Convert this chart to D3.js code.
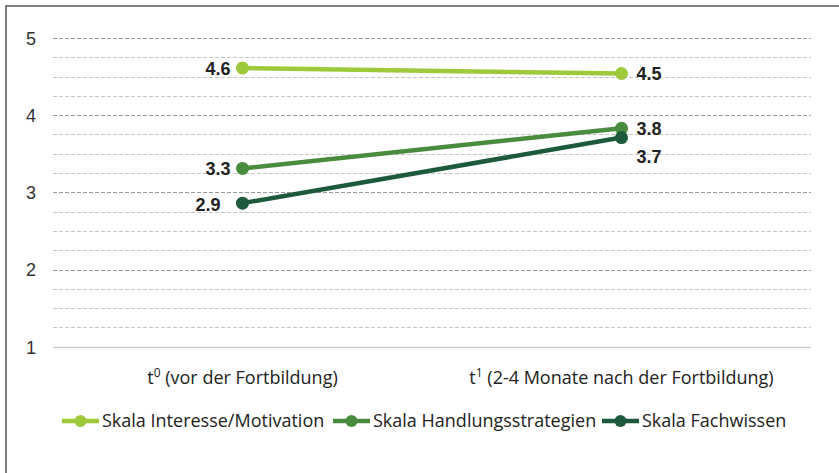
<!DOCTYPE html>
<html>
<head>
<meta charset="utf-8">
<script src="https://cdn.jsdelivr.net/npm/d3@7"></script>
<style>
  body { margin: 0; background: #fff; }
  svg { display: block; }
  .val-label { font-family: "Liberation Sans", Arial, sans-serif; font-size: 18px; font-weight: bold; fill: #222; }
  .cat-label, .legend-label { font-family: "Open Sans", sans-serif; font-size: 18px; fill: #222; }
</style>
</head>
<body>
<div id="chart"></div>
<script>
/* Data ************************************************************************/

var categories = ['t0', 't1'];
var cat_main = ['t', 't'],
    cat_sup = ['0', '1'],
    cat_rest = [' (vor der Fortbildung)', ' (2-4 Monate nach der Fortbildung)'];

var series_names = ['Skala Interesse/Motivation',
                    'Skala Handlungsstrategien',
                    'Skala Fachwissen'];
var interesse = [4.61, 4.54],
    handlung = [3.31, 3.83],
    fachwissen = [2.86, 3.71];
var series_colors = ['#9dc93b', '#4a8c3e', '#1d5a3b'];

var y_ticks = [1, 2, 3, 4, 5];

/* Chart ***********************************************************************/

function build_chart()
{
    let width = 839,
        height = 473,
        margin = { top: 38, bottom: 126, left: 53, right: 28 };

    let svg = d3.select('#chart').append('svg')
        .attr('width', width)
        .attr('height', height);

    let x = d3.scalePoint()
        .domain(categories)
        .range([margin.left, width - margin.right])
        .padding(0.5);

    let y = d3.scaleLinear()
        .domain([1, 5])
        .range([346.7, margin.top]);

    // frame
    svg.append('path')
        .attr('d', d3.line()([[6, height], [6, 6], [width, 6]]))
        .attr('fill', 'none')
        .attr('stroke', '#555')
        .attr('stroke-width', 1.5);

    // grid lines (minor every 0.25, major on integers)
    let grid = d3.range(1, 5.001, 0.25);
    svg.append('g').selectAll('line').data(grid).enter()
        .append('line')
        .attr('x1', margin.left)
        .attr('x2', width - margin.right)
        .attr('y1', d => Math.round(y(d)) + 0.5)
        .attr('y2', d => Math.round(y(d)) + 0.5)
        .attr('stroke', d => d == 1 ? '#ccc' : (d % 1 == 0 ? '#999' : '#c4c4c4'))
        .attr('stroke-dasharray', d => d == 1 ? null : '4,2')
        .attr('stroke-width', d => d == 1 ? 1.5 : 1);

    // y tick labels
    let yaxis = d3.axisLeft(y).tickValues(y_ticks).tickFormat(d3.format('d'))
        .tickSize(0).tickPadding(0);
    let yg = svg.append('g')
        .attr('transform', 'translate(36,0)')
        .call(yaxis)
        .attr('font-family', '"Liberation Sans", Arial, sans-serif')
        .attr('font-size', 18);
    yg.select('.domain').remove();
    yg.selectAll('text')
        .attr('fill', '#333')
        .attr('dy', '0.35em');

    // category labels
    let cl = svg.append('g').selectAll('text').data(categories).enter()
        .append('text')
        .attr('class', 'cat-label')
        .attr('x', d => x(d))
        .attr('y', 384)
        .attr('text-anchor', 'middle');
    cl.append('tspan').text((d, i) => cat_main[i]);
    cl.append('tspan').attr('dy', -7).attr('font-size', 12).text((d, i) => cat_sup[i]);
    cl.append('tspan').attr('dy', 7).text((d, i) => cat_rest[i]);

    // series
    let all = [interesse, handlung, fachwissen];
    let line = d3.line().x((d, i) => x(categories[i])).y(d => y(d));

    all.forEach((vals, s) => {
        svg.append('path')
            .attr('d', line(vals))
            .attr('fill', 'none')
            .attr('stroke', series_colors[s])
            .attr('stroke-width', 4.5);
        svg.append('g').selectAll('circle').data(vals).enter()
            .append('circle')
            .attr('cx', (d, i) => x(categories[i]))
            .attr('cy', d => y(d))
            .attr('r', 6.5)
            .attr('fill', series_colors[s]);
    });

    // value labels (offsets per series and point)
    let label_dx = [[-12, 15], [-12, 15], [-22, 15]],
        label_dy = [[0, 0], [0, 0], [1, 19]];
    all.forEach((vals, s) => {
        svg.append('g').selectAll('text').data(vals).enter()
            .append('text')
            .attr('class', 'val-label')
            .attr('x', (d, i) => x(categories[i]) + label_dx[s][i])
            .attr('y', (d, i) => y(d) + label_dy[s][i] + 6.5)
            .attr('text-anchor', (d, i) => i == 0 ? 'end' : 'start')
            .text(d => d.toFixed(1));
    });

    // legend
    let legend_x = [62, 333, 602],
        legend_y = 421;
    let items = svg.append('g').selectAll('g').data(series_names).enter()
        .append('g')
        .attr('transform', (d, i) => `translate(${legend_x[i]},${legend_y})`);
    items.append('line')
        .attr('x1', 0).attr('x2', 37)
        .attr('stroke', (d, i) => series_colors[i])
        .attr('stroke-width', 4.5);
    items.append('circle')
        .attr('cx', 18.5).attr('r', 6)
        .attr('fill', (d, i) => series_colors[i]);
    items.append('text')
        .attr('class', 'legend-label')
        .attr('x', 40)
        .attr('dy', '0.35em')
        .text(d => d);
}

build_chart();
</script>
</body>
</html>
